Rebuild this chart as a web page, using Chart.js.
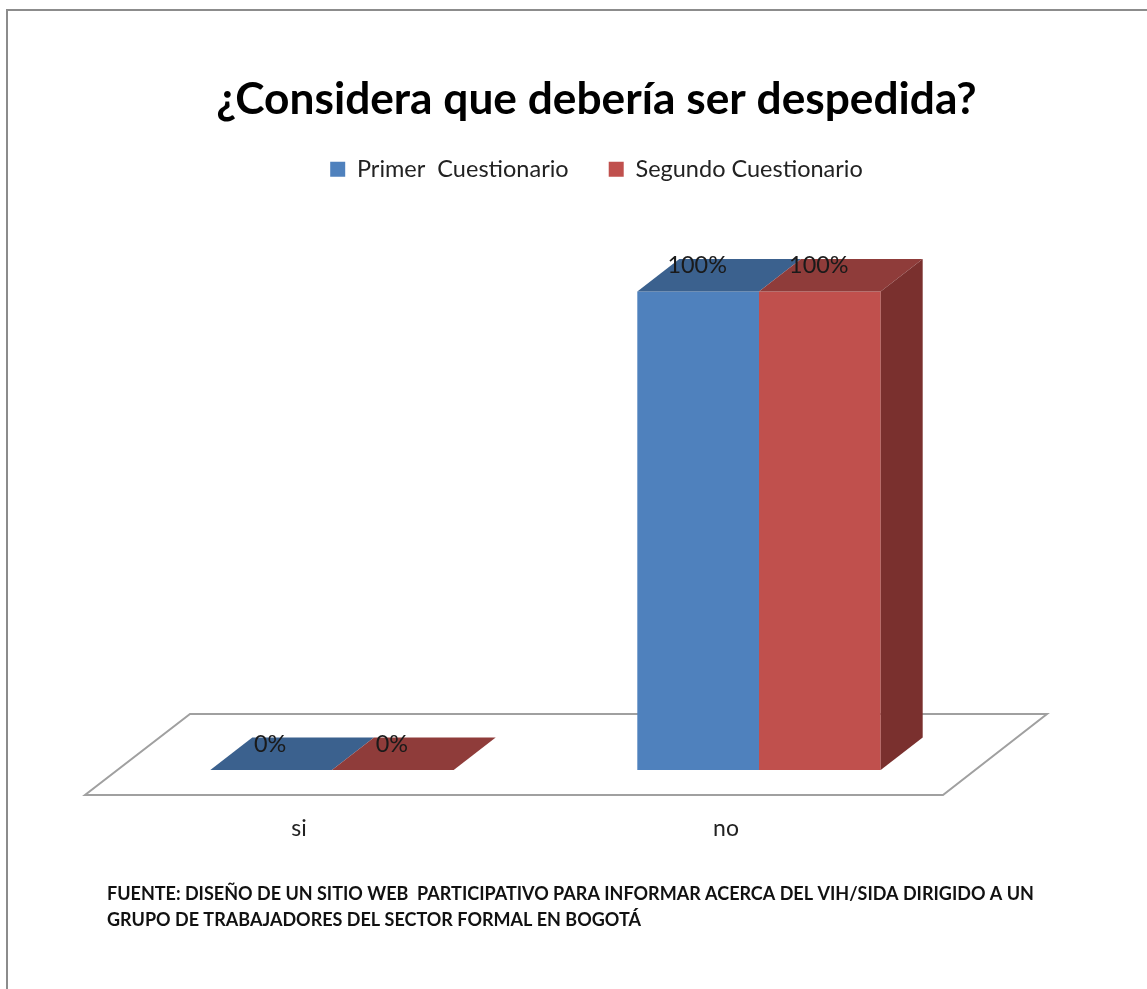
<!DOCTYPE html>
<html>
<head>
<meta charset="utf-8">
<title>¿Considera que debería ser despedida?</title>
<script src="https://cdn.jsdelivr.net/npm/chart.js@4"></script>
<style>
  html, body { margin: 0; padding: 0; background: #fff; }
  canvas { display: block; }
</style>
</head>
<body>
<canvas id="chart" width="1147" height="989"></canvas>
<script>
const categories = ["si", "no"];
const primer_values = [0, 100];
const segundo_values = [0, 100];
const series_names = ["Primer  Cuestionario", "Segundo Cuestionario"];
const front_colors = ["#4F81BD", "#C0504D"];
const top_colors = ["#3B618E", "#8F3C3A"];
const side_color = "#7A302E";
const footnote = [
  "FUENTE: DISEÑO DE UN SITIO WEB  PARTICIPATIVO PARA INFORMAR ACERCA DEL VIH/SIDA DIRIGIDO A UN",
  "GRUPO DE TRABAJADORES DEL SECTOR FORMAL EN BOGOTÁ"
];
const font_name = "Lato, 'Open Sans', sans-serif";

// depth of the fake 3d look
const depth_x = 42;
const depth_y = 32.5;

function face(ctx, points, color) {
  ctx.fillStyle = color;
  ctx.beginPath();
  points.forEach((p, i) => i ? ctx.lineTo(p[0], p[1]) : ctx.moveTo(p[0], p[1]));
  ctx.closePath();
  ctx.fill();
}

// picture frame, only top and left are visible
const frame_plugin = {
  id: "frame",
  beforeDraw(chart) {
    const ctx = chart.ctx;
    ctx.save();
    ctx.strokeStyle = "#8c8c8c";
    ctx.lineWidth = 2;
    ctx.beginPath();
    ctx.moveTo(7, 989);
    ctx.lineTo(7, 10);
    ctx.lineTo(1147, 10);
    ctx.stroke();
    ctx.restore();
  }
};

// floor under the bars
const floor_plugin = {
  id: "floor",
  beforeDatasetsDraw(chart) {
    const ctx = chart.ctx;
    const area = chart.chartArea;
    const base = chart.scales.y.getPixelForValue(0);
    ctx.save();
    ctx.strokeStyle = "#a0a0a0";
    ctx.lineWidth = 2;
    ctx.beginPath();
    ctx.moveTo(area.left - 33.5, base + 25);
    ctx.lineTo(area.right - 29.5, base + 25);
    ctx.lineTo(area.right + 74.5, base - 56);
    ctx.lineTo(area.left + 71.5, base - 56);
    ctx.closePath();
    ctx.stroke();
    ctx.restore();
  }
};

// top and side faces, then the value labels
const bars_plugin = {
  id: "bars3d",
  afterDatasetsDraw(chart) {
    const ctx = chart.ctx;
    ctx.save();
    chart.data.datasets.forEach((ds, d) => {
      chart.getDatasetMeta(d).data.forEach((bar) => {
        const l = bar.x - bar.width / 2;
        const r = bar.x + bar.width / 2;
        face(ctx, [[l, bar.y], [r, bar.y], [r + depth_x, bar.y - depth_y], [l + depth_x, bar.y - depth_y]], top_colors[d]);
        if (d === chart.data.datasets.length - 1 && bar.base - bar.y > 1) {
          face(ctx, [[r, bar.y], [r + depth_x, bar.y - depth_y], [r + depth_x, bar.base - depth_y], [r, bar.base]], side_color);
        }
      });
    });
    ctx.fillStyle = "#1a1a1a";
    ctx.font = "23.4px " + font_name;
    ctx.textAlign = "center";
    ctx.textBaseline = "middle";
    chart.data.datasets.forEach((ds, d) => {
      chart.getDatasetMeta(d).data.forEach((bar, i) => {
        ctx.fillText(ds.data[i] + "%", bar.x - 1, bar.y - 26);
      });
    });
    ctx.restore();
  }
};

const footnote_plugin = {
  id: "footnote",
  afterDraw(chart) {
    const ctx = chart.ctx;
    ctx.save();
    ctx.fillStyle = "#111";
    ctx.font = "bold 18px " + font_name;
    ctx.textAlign = "left";
    ctx.textBaseline = "middle";
    footnote.forEach((line, i) => ctx.fillText(line, 107, 894 + i * 26));
    ctx.restore();
  }
};

new Chart(document.getElementById("chart").getContext("2d"), {
  type: "bar",
  data: {
    labels: categories,
    datasets: [
      { label: series_names[0], data: primer_values, backgroundColor: front_colors[0], categoryPercentage: 0.57, barPercentage: 1 },
      { label: series_names[1], data: segundo_values, backgroundColor: front_colors[1], categoryPercentage: 0.57, barPercentage: 1 }
    ]
  },
  options: {
    responsive: false,
    animation: false,
    layout: { padding: { left: 46, right: 0, top: 0, bottom: 0 } },
    scales: {
      x: {
        grid: { display: false },
        border: { display: false },
        ticks: { color: "#222", padding: 37, labelOffset: -33, font: { family: font_name, size: 23 } },
        afterFit(scale) { scale.height = 219; }
      },
      // empty axis, only a small spacer under the legend
      x2: {
        position: "top",
        display: true,
        grid: { display: false },
        border: { display: false },
        ticks: { display: false },
        afterFit(scale) { scale.height = 4.8; }
      },
      y: {
        min: 0,
        max: 120,
        grid: { display: false },
        border: { display: false },
        ticks: { display: false },
        afterFit(scale) { scale.width = 72.5; }
      },
      y2: {
        position: "right",
        display: true,
        grid: { display: false },
        border: { display: false },
        ticks: { display: false },
        afterFit(scale) { scale.width = 174.5; }
      }
    },
    plugins: {
      title: {
        display: true,
        text: "¿Considera que debería ser despedida?",
        color: "#000",
        font: { family: font_name, size: 44.25, weight: "bold" },
        padding: { top: 73, bottom: 9.3 }
      },
      legend: {
        position: "top",
        labels: {
          color: "#222",
          boxWidth: 15,
          boxHeight: 15,
          padding: 22,
          font: { family: font_name, size: 23.5 },
          generateLabels(chart) {
            // extra gap between the two entries
            return Chart.defaults.plugins.legend.labels.generateLabels(chart).map((item, i) => {
              if (i === 0) item.text += "\u00a0\u00a0\u00a0";
              return item;
            });
          }
        }
      },
      tooltip: { enabled: false }
    }
  },
  plugins: [frame_plugin, floor_plugin, bars_plugin, footnote_plugin]
});
</script>
</body>
</html>
